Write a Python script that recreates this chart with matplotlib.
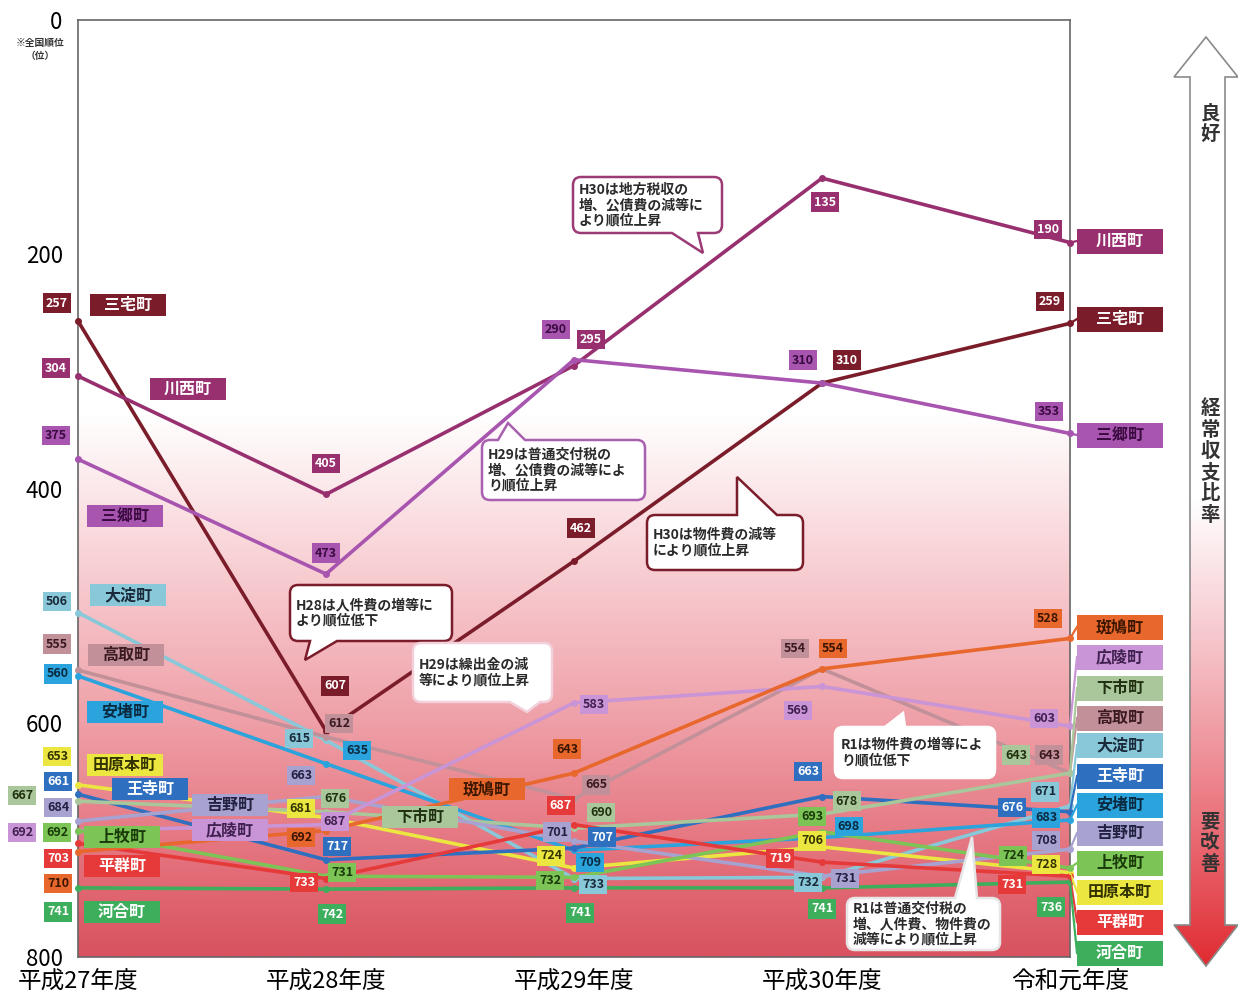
import numpy as np
import matplotlib
matplotlib.use('Agg')
import matplotlib.pyplot as plt
from matplotlib.colors import LinearSegmentedColormap
from matplotlib.patches import Rectangle, PathPatch, Polygon
from matplotlib.path import Path

plt.rcParams['font.family'] = ['Noto Sans CJK JP', 'DejaVu Sans']

W, H = 1238, 993
AX_L, AX_R, AX_T, AX_B = 78, 1070, 20, 957

years = ['平成27年度', '平成28年度', '平成29年度', '平成30年度', '令和元年度']
towns = ['三宅町', '川西町', '三郷町', '大淀町', '高取町', '安堵町', '田原本町', '王寺町',
         '下市町', '吉野町', '広陵町', '上牧町', '平群町', '斑鳩町', '河合町']

# 経常収支比率の全国順位
rank_miyake = [257, 607, 462, 310, 259]
rank_kawanishi = [304, 405, 295, 135, 190]
rank_sango = [375, 473, 290, 310, 353]
rank_oyodo = [506, 615, 733, 732, 671]
rank_takatori = [555, 612, 665, 554, 643]
rank_ando = [560, 635, 709, 698, 683]
rank_tawaramoto = [653, 681, 724, 706, 728]
rank_oji = [661, 717, 707, 663, 676]
rank_shimoichi = [667, 676, 690, 678, 643]
rank_yoshino = [684, 663, 701, 731, 708]
rank_koryo = [692, 687, 583, 569, 603]
rank_kanmaki = [692, 731, 732, 693, 724]
rank_heguri = [703, 733, 687, 719, 731]
rank_ikaruga = [710, 692, 643, 554, 528]
rank_kawai = [741, 742, 741, 741, 736]

ranks = [rank_miyake, rank_kawanishi, rank_sango, rank_oyodo, rank_takatori, rank_ando,
         rank_tawaramoto, rank_oji, rank_shimoichi, rank_yoshino, rank_koryo, rank_kanmaki,
         rank_heguri, rank_ikaruga, rank_kawai]

line_colors = ['#7b1c2a', '#983070', '#a855b0', '#88c8d8', '#c29098', '#2ba3dc', '#ece640',
               '#2f6fc0', '#a9c79a', '#a8a2d0', '#c995d6', '#7cc455', '#e63a3a', '#e8672c',
               '#3cae5c']
text_colors = ['white', 'white', '#3a0a40', '#1a2a3a', '#3a1a20', '#0a2a40', '#333300',
               'white', '#203010', '#202040', '#402050', '#1a3a0a', 'white', '#3a1500',
               'white']

# value label offsets (px, right / down) for each year
label_offsets = [
    [(-21, -18), (9, -45), (7, -33), (25, -23), (-20, -22)],
    [(-22, -8), (0, -31), (17, -26), (3, 24), (-22, -13)],
    [(-22, -24), (0, -21), (-18, -30), (-19, -23), (-21, -22)],
    [(-21, -11), (-27, -2), (19, 6), (-14, 5), (-25, -14)],
    [(-21, -26), (13, -13), (22, -14), (-27, -20), (-21, -18)],
    [(-20, -2), (31, -13), (16, 12), (27, -11), (-24, -2)],
    [(-21, -28), (-25, -9), (-23, -12), (-10, -6), (-24, -8)],
    [(-20, -13), (11, -13), (28, -11), (-14, -25), (-58, -4)],
    [(-56, -6), (9, -13), (27, -16), (25, -13), (-54, -18)],
    [(-20, -14), (-25, -21), (-17, -9), (23, 2), (-24, -9)],
    [(-56, 2), (9, -3), (20, 2), (-24, 24), (-26, -8)],
    [(-21, 2), (16, -4), (-24, 3), (-10, -15), (-57, -12)],
    [(-20, 15), (-22, 4), (-13, -19), (-42, -4), (-58, 8)],
    [(-20, 32), (-25, 7), (-7, -24), (11, -20), (-22, -20)],
    [(-20, 24), (6, 25), (6, 25), (0, 21), (-19, 25)],
]

# name tags inside the plot (px centres) and on the right edge (px y)
left_tags = [(128, 305), (188, 389), (125, 516), (128, 595), (126, 655), (125, 712),
             (125, 765), (150, 789), (420, 817), (230, 805), (230, 830), (122, 837),
             (122, 866), (487, 789), (122, 912)]
right_tags_y = [319, 241, 435, 745, 718, 805, 892, 776, 688, 833, 657, 863, 922, 627, 953]

callouts = [
    ('H30は地方税収の\n増、公債費の減等に\nより順位上昇', (573, 177, 722, 233), 'bottom', 672, 698, (703, 253), '#9b3a75'),
    ('H29は普通交付税の\n増、公債費の減等によ\nり順位上昇', (482, 440, 645, 500), 'top', 498, 525, (508, 423), '#a860b0'),
    ('H30は物件費の減等\nにより順位上昇', (647, 515, 803, 570), 'top', 737, 777, (737, 477), '#7b1c2a'),
    ('H28は人件費の増等に\nより順位低下', (290, 585, 452, 641), 'bottom', 310, 337, (305, 660), '#7b1c2a'),
    ('H29は繰出金の減\n等により順位上昇', (413, 643, 552, 702), 'bottom', 510, 540, (527, 712), '#f2d0dc'),
    ('R1は物件費の増等によ\nり順位低下', (835, 727, 995, 778), 'top', 885, 905, (903, 713), 'white'),
    ('R1は普通交付税の\n増、人件費、物件費の\n減等により順位上昇', (847, 898, 1000, 950), 'top', 955, 977, (972, 837), '#e6e6e6'),
]


def to_data(px, py):
    return (px - AX_L) / (AX_R - AX_L) * 4, (py - AX_T) / (AX_B - AX_T) * 800


def px_w(w):
    return w / (AX_R - AX_L) * 4


def px_h(h):
    return h / (AX_B - AX_T) * 800


def name_tag(ax, cx, cy, w, h, text, fc, tc):
    x, y = to_data(cx, cy)
    ax.add_patch(Rectangle((x - px_w(w) / 2, y - px_h(h) / 2), px_w(w), px_h(h),
                           fc=fc, ec='none', clip_on=False, zorder=4))
    ax.text(x, y, text, ha='center', va='center', fontsize=11.5, fontweight='bold',
            color=tc, clip_on=False, zorder=5)


def bubble_path(x0, y0, x1, y1, side, b0, b1, tip, r=8):
    # rounded box with the tail cut into its top or bottom edge (y grows downwards)
    verts = [(x0 + r, y0)]
    codes = [Path.MOVETO]
    if side == 'top':
        verts += [(b0, y0), tip, (b1, y0)]
        codes += [Path.LINETO] * 3
    verts += [(x1 - r, y0), (x1, y0), (x1, y0 + r), (x1, y1 - r), (x1, y1), (x1 - r, y1)]
    codes += [Path.LINETO, Path.CURVE3, Path.CURVE3, Path.LINETO, Path.CURVE3, Path.CURVE3]
    if side == 'bottom':
        verts += [(b1, y1), tip, (b0, y1)]
        codes += [Path.LINETO] * 3
    verts += [(x0 + r, y1), (x0, y1), (x0, y1 - r), (x0, y0 + r), (x0, y0), (x0 + r, y0)]
    codes += [Path.LINETO, Path.CURVE3, Path.CURVE3, Path.LINETO, Path.CURVE3, Path.CURVE3]
    verts.append((x0 + r, y0))
    codes.append(Path.CLOSEPOLY)
    return Path(verts, codes)


fig = plt.figure(figsize=(W / 100, H / 100), dpi=100)
fig.patch.set_facecolor('white')

ax = fig.add_axes([AX_L / W, 1 - AX_B / H, (AX_R - AX_L) / W, (AX_B - AX_T) / H], zorder=2)

bg_cmap = LinearSegmentedColormap.from_list(
    'bg', [(0, '#ffffff'), (0.42, '#ffffff'), (0.56, '#f9d6da'), (0.75, '#ef9fa7'),
           (0.9, '#e3707b'), (1.0, '#d9525f')])
ax.imshow(np.linspace(0, 1, 512).reshape(-1, 1), cmap=bg_cmap, extent=(0, 4, 800, 0),
          aspect='auto', interpolation='bilinear', zorder=0)
ax.set_xlim(0, 4)
ax.set_ylim(800, 0)

x = np.arange(len(years))
for r, c in zip(ranks, line_colors):
    ax.plot(x, r, color=c, lw=2.6, marker='o', ms=4, clip_on=False, zorder=3)

# value boxes
for r, c, tc, offs in zip(ranks, line_colors, text_colors, label_offsets):
    for i, (v, (dx, dy)) in enumerate(zip(r, offs)):
        ax.annotate(str(v), (i, v), xytext=(dx, -dy), textcoords='offset pixels',
                    ha='center', va='center', fontsize=9, fontweight='bold', color=tc,
                    bbox=dict(boxstyle='square,pad=0.25', fc=c, ec='none'),
                    annotation_clip=False, zorder=5)

# town tags along the first year and at the right edge
for name, (cx, cy), c, tc in zip(towns, left_tags, line_colors, text_colors):
    name_tag(ax, cx, cy, 76, 22, name, c, tc)

tag_left = 1077
for name, r, ty, c, tc in zip(towns, ranks, right_tags_y, line_colors, text_colors):
    name_tag(ax, tag_left + 43, ty, 86, 25, name, c, tc)
    ex, ey = to_data(tag_left, ty)
    ax.plot([4, ex], [r[-1], ey], color=c, lw=1.6, clip_on=False, zorder=3)

ax.set_xticks(x)
ax.set_xticklabels(years, fontsize=17)
ax.set_yticks([0, 200, 400, 600, 800])
ax.set_yticklabels(['0', '200', '400', '600', '800'], fontsize=16)
ax.tick_params(axis='y', length=0, pad=11)
ax.tick_params(axis='x', length=0, pad=10)
for s in ax.spines.values():
    s.set_color('#666666')
    s.set_linewidth(1.2)

fig.text(40 / W, 1 - 43 / H, '※全国順位', ha='center', va='center', fontsize=7,
         fontweight='bold', color='#333333')
fig.text(40 / W, 1 - 56 / H, '（位）', ha='center', va='center', fontsize=7,
         fontweight='bold', color='#333333')

# overlay in pixel units for the speech bubbles and the side arrow
ov = fig.add_axes([0, 0, 1, 1], zorder=5)
ov.set_xlim(0, W)
ov.set_ylim(H, 0)
ov.axis('off')

for text, (x0, y0, x1, y1), side, b0, b1, tip, ec in callouts:
    ov.add_patch(PathPatch(bubble_path(x0, y0, x1, y1, side, b0, b1, tip),
                           fc='white', ec=ec, lw=1.8, zorder=6))
    ov.text(x0 + 6, (y0 + y1) / 2, text, ha='left', va='center', fontsize=10,
            fontweight='bold', color='#2a2a2a', linespacing=1.12, zorder=7)

arrow_pts = [(1206, 37), (1238, 77), (1225, 77), (1225, 925), (1238, 925), (1206, 966),
             (1174, 925), (1190, 925), (1190, 77), (1174, 77)]
arrow = Polygon(arrow_pts, closed=True, fc='none', ec='#8a8a8a', lw=1.2, zorder=3)
ov.add_patch(arrow)
arr_cmap = LinearSegmentedColormap.from_list(
    'arr', [(0, '#ffffff'), (0.5, '#ffffff'), (0.65, '#f6c6cc'), (0.85, '#ea6f78'),
            (1.0, '#e02a30')])
img = ov.imshow(np.linspace(0, 1, 512).reshape(-1, 1), cmap=arr_cmap,
                extent=(1170, 1240, 970, 30), aspect='auto', interpolation='bilinear', zorder=2)
img.set_clip_path(arrow)
ov.set_xlim(0, W)
ov.set_ylim(H, 0)

ov.text(1210, 125, '良\n好', ha='center', va='center', fontsize=14, fontweight='bold',
        color='#333333', linespacing=1.15, zorder=4)
ov.text(1210, 462, '経\n常\n収\n支\n比\n率', ha='center', va='center', fontsize=14,
        fontweight='bold', color='#333333', linespacing=1.15, zorder=4)
ov.text(1210, 843, '要\n改\n善', ha='center', va='center', fontsize=14, fontweight='bold',
        color='#333333', linespacing=1.15, zorder=4)

fig.savefig('out.png', dpi=100)
